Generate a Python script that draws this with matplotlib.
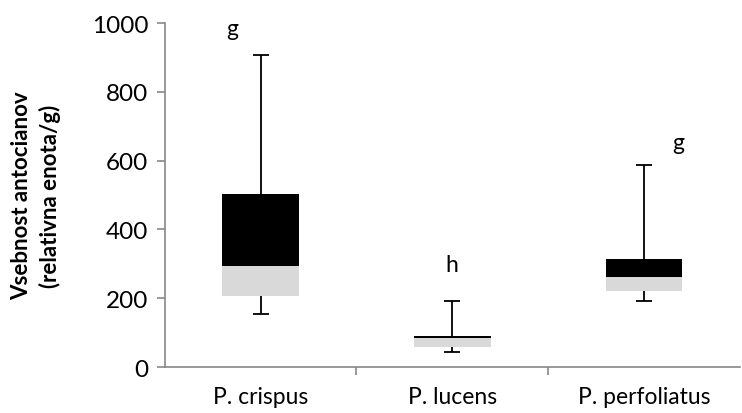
import matplotlib.pyplot as plt

plt.rcParams['font.family'] = ['Lato', 'DejaVu Sans']

# podatki (odčitani s slike)
vrste = ['P. crispus', 'P. lucens', 'P. perfoliatus']
minimum = [154, 44, 192]
q1 = [206, 58, 221]
mediana = [294, 83, 262]
q3 = [503, 90, 314]
maksimum = [907, 192, 586]
crke = ['g', 'h', 'g']
crke_x = [-0.15, 0.0, 0.18]
crke_y = [985, 297, 654]

x = list(range(len(vrste)))

fig = plt.figure(figsize=(7.42, 4.14), dpi=100)
ax = fig.add_axes([0.222, 0.111, 0.775, 0.831])

# spodnji del škatle (Q1 - mediana) in zgornji del (mediana - Q3)
spodaj = [m - a for m, a in zip(mediana, q1)]
zgoraj = [b - m for b, m in zip(q3, mediana)]
ax.bar(x, spodaj, bottom=q1, width=0.4, color='#d9d9d9', zorder=2)
ax.bar(x, zgoraj, bottom=mediana, width=0.4, color='black', zorder=2)

# brki s kapicami samo na koncih
ax.vlines(x, q3, maksimum, color='black', linewidth=1.3, zorder=1)
ax.vlines(x, minimum, q1, color='black', linewidth=1.3, zorder=1)
ax.plot(x, maksimum, linestyle='none', marker='_', markersize=12,
        markeredgewidth=1.3, color='black')
ax.plot(x, minimum, linestyle='none', marker='_', markersize=12,
        markeredgewidth=1.3, color='black')

for i, c in enumerate(crke):
    ax.text(x[i] + crke_x[i], crke_y[i], c, ha='center', va='center', fontsize=16.5)

ax.set_xlim(-0.5, 2.5)
ax.set_ylim(0, 1000)
ax.set_yticks(range(0, 1001, 200))
ax.set_xticks(x)
ax.set_xticklabels(vrste, fontsize=16.5)
ax.set_xticks([0.5, 1.5], minor=True)
ax.tick_params(axis='x', which='major', length=0, pad=14)
ax.tick_params(axis='x', which='minor', length=6, color='#888888', width=1.2)
ax.tick_params(axis='y', length=6, color='#888888', width=1.2, labelsize=17.5, pad=6)

for s in ['top', 'right']:
    ax.spines[s].set_visible(False)
for s in ['left', 'bottom']:
    ax.spines[s].set_color('#888888')
    ax.spines[s].set_linewidth(1.2)

ax.set_ylabel('Vsebnost antocianov\n(relativna enota/g)', fontsize=16,
              fontweight='bold', labelpad=22, linespacing=1.35)

fig.savefig('out.png', dpi=100)
